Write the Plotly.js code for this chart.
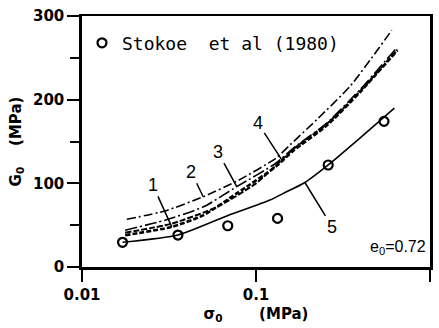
<!DOCTYPE html>
<html>
<head>
<meta charset="utf-8">
<script src="https://cdn.plot.ly/plotly-3.0.1.min.js"></script>
<style>html,body{margin:0;padding:0;background:#fff;}#chart{width:439px;height:328px;}</style>
</head>
<body>
<div id="chart"></div>
<script>
// Observed data: Stokoe et al (1980)
const sigmaObs = [0.0171, 0.0356, 0.0688, 0.133, 0.260, 0.544];
const gObs = [29.5, 38.2, 49.3, 58.1, 121.9, 174.1];

// Predicted curves 1..5
const x1 = [0.0177, 0.0328, 0.05, 0.0775, 0.13, 0.164, 0.255, 0.396, 0.65];
const y1 = [38, 48, 62, 88, 120, 139, 169, 209, 259];
const x2 = [0.0181, 0.03, 0.0497, 0.08, 0.13, 0.157, 0.223, 0.347, 0.603];
const y2 = [57, 67, 84, 104, 130, 146, 176, 216, 283];
const x3 = [0.0177, 0.03, 0.05, 0.0775, 0.13, 0.164, 0.255, 0.396, 0.644];
const y3 = [44, 56, 72, 96, 124, 142, 172, 212, 262];
const x4 = [0.0177, 0.033, 0.06, 0.1, 0.1407, 0.164, 0.255, 0.396, 0.65];
const y4 = [41, 52, 72, 100, 128, 141, 171, 210, 260];
const x5 = [0.0171, 0.0356, 0.0679, 0.1204, 0.1436, 0.191, 0.260, 0.40, 0.624];
const y5 = [29.5, 38.2, 61, 80, 88, 101, 122, 155, 190];

const curveLabels = ['1', '2', '3', '4', '5'];
const labelTipIndex = [1, 2, 3, 4, 5];
const labelOffsetX = [-19, -12, -19, -24, 27];
const labelOffsetY = [-42, -25, -35, -37, 44];

const xTickVals = [0.01, 0.1, 1];
const xTickText = ['0.01', '0.1', '1.0'];
const yTickVals = [0, 100, 200, 300];

const NB = '\u00a0';
const curves = [[x1, y1], [x2, y2], [x3, y3], [x4, y4], [x5, y5]];
const styles = [
  {dash: '5px,2px', width: 2.6},
  {dash: '9px,3px,2px,3px', width: 1.6},
  {dash: '12px,3px,2px,3px', width: 1.6},
  {dash: '6px,2px', width: 2},
  {dash: 'solid', width: 1.6}
];

const traces = curves.map((c, i) => ({
  x: c[0], y: c[1], mode: 'lines', type: 'scatter', showlegend: false,
  line: {color: '#000', width: styles[i].width, dash: styles[i].dash, shape: 'spline', smoothing: 0.6},
  hoverinfo: 'skip'
}));
traces.push({
  x: sigmaObs, y: gObs, mode: 'markers', type: 'scatter', name: 'Stokoe' + NB + NB + 'et al (1980)',
  marker: {symbol: 'circle-open', size: 9, color: '#000', line: {width: 2.2, color: '#000'}}
});

const annotations = curves.map((c, i) => ({
  x: Math.log10(c[0][labelTipIndex[i]]), y: c[1][labelTipIndex[i]], xref: 'x', yref: 'y',
  text: curveLabels[i], showarrow: true, arrowhead: 0, arrowwidth: 1.5, arrowcolor: '#000',
  ax: labelOffsetX[i], ay: labelOffsetY[i], standoff: 0,
  font: {family: 'Liberation Sans, Arial, sans-serif', size: 18, color: '#000'}
}));
annotations.push({
  xref: 'paper', yref: 'paper', x: 0.995, y: 0.076, xanchor: 'right', yanchor: 'middle',
  text: 'e<sub>0</sub>=0.72', showarrow: false,
  font: {family: 'Liberation Sans, Arial, sans-serif', size: 16, color: '#000'}
});

const layout = {
  width: 439, height: 328,
  margin: {l: 82, r: 9, t: 16, b: 61},
  paper_bgcolor: '#fff', plot_bgcolor: '#fff',
  showlegend: true,
  legend: {x: 0.0, y: 0.892, xanchor: 'left', yanchor: 'middle', bgcolor: 'rgba(0,0,0,0)',
    font: {family: 'DejaVu Sans Mono, monospace', size: 18, color: '#000'}},
  xaxis: {
    type: 'log', range: [-2, 0], tickvals: xTickVals, ticktext: xTickText,
    ticks: 'outside', ticklen: 12, tickwidth: 2.5, tickcolor: '#000',
    showline: true, linewidth: 2.5, linecolor: '#000', mirror: true, showgrid: false, zeroline: false,
    tickfont: {family: 'DejaVu Sans, sans-serif', size: 15, color: '#000', weight: 'bold'},
    title: {text: 'σ<sub>0</sub>' + NB.repeat(7) + '(MPa)', standoff: 6,
      font: {family: 'DejaVu Sans, sans-serif', size: 15, color: '#000', weight: 'bold'}}
  },
  yaxis: {
    range: [0, 300], tickvals: yTickVals,
    ticks: 'outside', ticklen: 12, tickwidth: 2, tickcolor: '#000',
    minor: {dtick: 50, ticks: 'outside', ticklen: 9, tickwidth: 2, tickcolor: '#000', showgrid: false},
    showline: true, linewidth: 2.7, linecolor: '#000', mirror: true, showgrid: false, zeroline: false,
    tickfont: {family: 'DejaVu Sans, sans-serif', size: 15, color: '#000', weight: 'bold'},
    title: {text: 'G<sub>0</sub>' + NB.repeat(4) + '(MPa)', standoff: 8,
      font: {family: 'DejaVu Sans, sans-serif', size: 15, color: '#000', weight: 'bold'}}
  },
  annotations: annotations
};

Plotly.newPlot('chart', traces, layout, {staticPlot: true, displayModeBar: false});
</script>
</body>
</html>
